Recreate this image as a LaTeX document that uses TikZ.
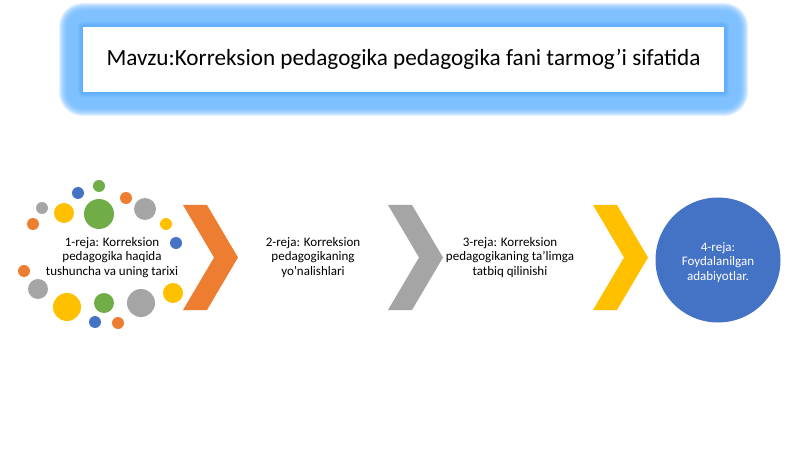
\documentclass[tikz,border=0pt]{standalone}
\usepackage{fontspec}
\setmainfont{Carlito}
\definecolor{cOrange}{HTML}{ED7D31}
\definecolor{cGray}{HTML}{A5A5A5}
\definecolor{cYellow}{HTML}{FFC000}
\definecolor{cBlue}{HTML}{4472C4}
\definecolor{cGreen}{HTML}{70AD47}
\definecolor{cGlow}{RGB}{110,185,255}
\definecolor{cGlowIn}{RGB}{70,160,250}
\tikzset{
  steptext/.style={align=center,font=\fontsize{13}{14.5}\selectfont,text=black},
  dot/.style={circle,inner sep=0pt,draw=none},
}
\begin{document}
\begin{tikzpicture}[x=1pt,y=-1pt]
\useasboundingbox (0,0) rectangle (800,449);
\fill[white] (0,0) rectangle (800,449);
% glow
\foreach \d in {24,23,...,16}{
  \fill[cGlow,opacity=0.2,rounded corners=\d pt] (83-\d,27-\d) rectangle (724+\d,92+\d);
}
\foreach \d in {5,4,3,2}{
  \fill[cGlowIn,opacity=0.15,rounded corners=\d pt] (83-\d,27-\d) rectangle (724+\d,92+\d);
}
\node[draw=none,fill=white,minimum width=641pt,minimum height=65pt,inner sep=0pt,
  font=\fontsize{23.2}{26}\selectfont] (title) at (403.5,59.5)
  {Mavzu:Korreksion pedagogika pedagogika fani tarmog’i sifatida};
% dots
\foreach \x/\y/\r/\c [count=\i] in {
  99/186/6/cGreen, 78/193/6/cBlue, 126/198/6/cOrange, 42/208/6/cGray,
  64/213/10/cYellow, 99/214/15/cGreen, 145/209/11/cGray, 33/224/6/cOrange,
  166/224/6/cYellow, 176/243/6/cBlue, 24/271/6/cOrange, 38/289/10/cGray,
  173/293/10/cYellow, 67/307/14/cYellow, 104/303/10/cGreen, 141/303/14/cGray,
  95/322/6/cBlue, 118/323/6/cOrange}{
  \node[dot,fill=\c,minimum size=2*\r pt] (d\i) at (\x,\y) {};
}
\node[steptext] (t1) at (112,257.5) {1-reja: Korreksion\\pedagogika haqida\\tushuncha va uning tarixi};
% chevrons
\foreach \L/\c/\n in {183/cOrange/c1, 388/cGray/c2, 593/cYellow/c3}{
  \fill[\c] (\L,205) -- (\L+24,205) -- (\L+55,257.5) -- (\L+24,310) -- (\L,310) -- (\L+31,257.5) -- cycle;
  \coordinate (\n) at (\L+28,257.5);
}
\node[steptext] (t2) at (313,257.5) {2-reja: Korreksion\\pedagogikaning\\yo’nalishlari};
\node[steptext] (t3) at (510,257.5) {3-reja: Korreksion\\pedagogikaning ta’limga\\tatbiq qilinishi};
\node[circle,fill=cBlue,minimum size=125pt,inner sep=0pt] (t4) at (718,260) {};
\node[align=center,text=white,font=\fontsize{13}{14.5}\selectfont] (t4txt) at (718,262.5)
  {4-reja:\\Foydalanilgan\\adabiyotlar.};
\end{tikzpicture}
\end{document}
